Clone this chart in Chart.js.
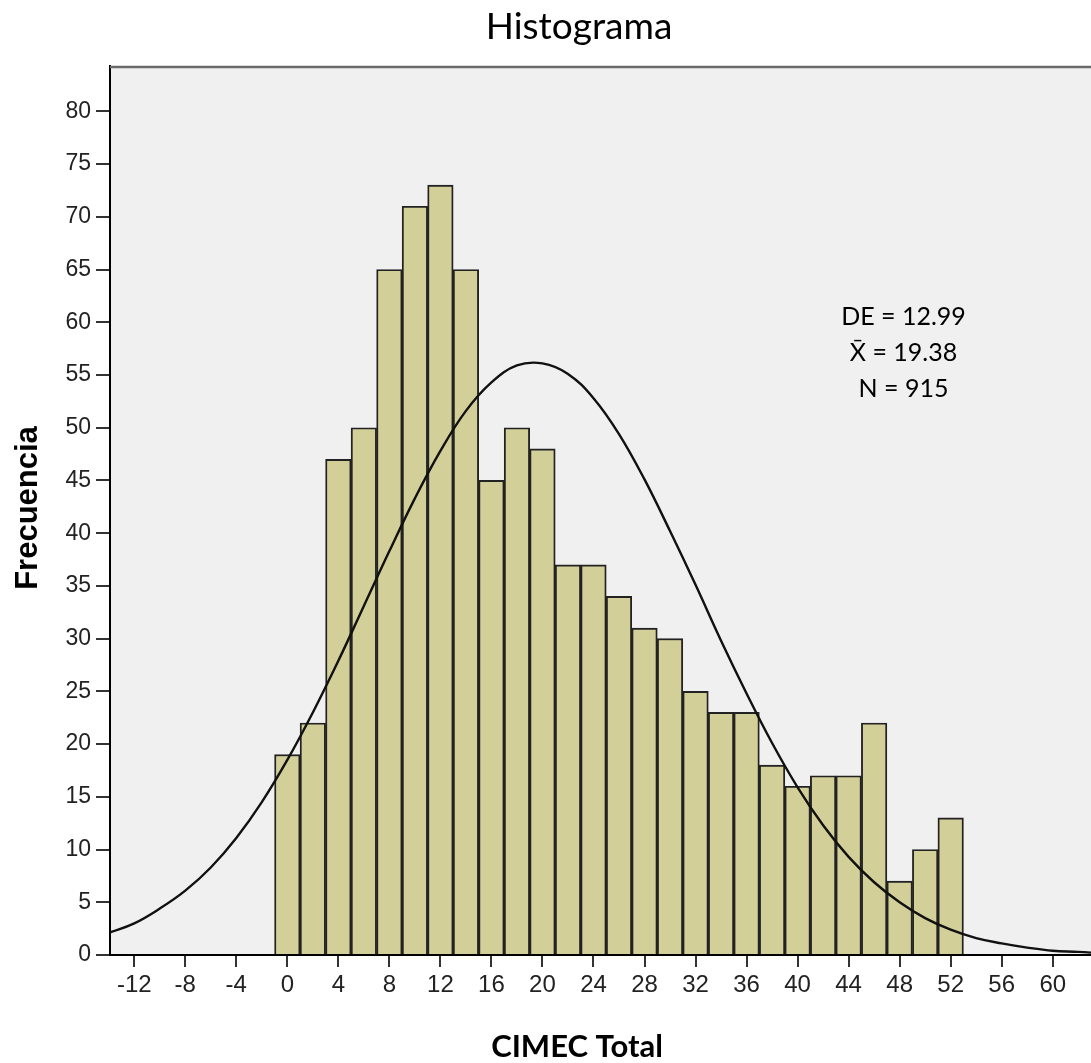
<!DOCTYPE html>
<html lang="es">
<head>
<meta charset="utf-8">
<title>Histograma</title>
<script src="https://cdn.jsdelivr.net/npm/chart.js@4/dist/chart.umd.min.js"></script>
<style>
  html, body { margin: 0; background: #fff; }
  #wrap { width: 1091px; height: 1063px; position: relative; }
</style>
</head>
<body>
<div id="wrap"><canvas id="histo"></canvas></div>
<script>
// centros de cada intervalo (ancho 2) y sus frecuencias
const centros = [0, 2, 4, 6, 8, 10, 12, 14, 16, 18, 20, 22, 24, 26, 28, 30, 32, 34, 36, 38, 40, 42, 44, 46, 48, 50, 52];
const frecuencias = [19, 22, 47, 50, 65, 71, 73, 65, 45, 50, 48, 37, 37, 34, 31, 30, 25, 23, 23, 18, 16, 17, 17, 22, 7, 10, 13];

// curva normal
const curvaX = [-14, -12, -10, -8, -6, -4, -2, 0, 2, 4, 6, 8, 10, 12, 14, 16, 18, 20, 22, 24, 26, 28, 30,
                32, 34, 36, 38, 40, 42, 44, 46, 48, 50, 52, 54, 56, 58, 60, 62, 64];
const curvaY = [2.1, 3.0, 4.4, 6.1, 8.3, 11.1, 14.5, 18.5, 23.0, 27.9, 33.1, 38.3, 43.3, 47.8, 51.6, 54.3, 55.9, 56.1, 55.1,
                52.8, 49.4, 45.1, 40.2, 35.1, 29.8, 24.8, 20.1, 15.9, 12.3, 9.3, 6.9, 5.0, 3.5, 2.4, 1.6, 1.1, 0.7, 0.4, 0.3, 0.15];

const ticksX = [-12, -8, -4, 0, 4, 8, 12, 16, 20, 24, 28, 32, 36, 40, 44, 48, 52, 56, 60];
const ticksY = [0, 5, 10, 15, 20, 25, 30, 35, 40, 45, 50, 55, 60, 65, 70, 75, 80];

const estadisticos = ['DE = 12.99', 'X\u0304 = 19.38', 'N = 915'];

const textos = {
    id: 'textos',
    beforeDraw(chart) {
        const { ctx, chartArea: a } = chart;
        ctx.save();
        ctx.fillStyle = '#f0f0f0';
        ctx.fillRect(a.left, a.top, a.right - a.left, a.bottom - a.top);
        ctx.restore();
    },
    afterDraw(chart) {
        const { ctx, chartArea: a, scales } = chart;
        ctx.save();
        // borde superior
        ctx.strokeStyle = '#6a6a6a';
        ctx.lineWidth = 2.5;
        ctx.beginPath();
        ctx.moveTo(a.left, a.top + 1);
        ctx.lineTo(a.right, a.top + 1);
        ctx.stroke();

        ctx.fillStyle = '#000';
        ctx.textAlign = 'center';
        ctx.textBaseline = 'alphabetic';
        ctx.font = '37px Lato';
        ctx.fillText('Histograma', 579, 39);

        ctx.font = 'bold 31px Lato';
        ctx.fillText('CIMEC Total', 577, 1057);

        ctx.save();
        ctx.translate(37, 508);
        ctx.rotate(-Math.PI / 2);
        ctx.font = 'bold 31px "Liberation Sans"';
        ctx.fillText('Frecuencia', 0, 0);
        ctx.restore();

        // cuadro de estadisticos
        ctx.font = '25px Lato';
        const x = scales.x.getPixelForValue(48.3);
        const y0 = scales.y.getPixelForValue(59.7);
        estadisticos.forEach((t, i) => ctx.fillText(t, x, y0 + i * 36));
        ctx.restore();
    }
};

new Chart(document.getElementById('histo'), {
    data: {
        datasets: [{
            type: 'line',
            data: curvaX.map((x, i) => ({ x, y: curvaY[i] })),
            borderColor: '#111',
            borderWidth: 2.4,
            pointRadius: 0,
            tension: 0.4,
            order: 0
        }, {
            type: 'bar',
            data: centros.map((x, i) => ({ x, y: frecuencias[i] })),
            backgroundColor: '#d3cf98',
            borderColor: '#222',
            borderWidth: 1.9,
            barPercentage: 1,
            categoryPercentage: 1,
            order: 1
        }]
    },
    options: {
        responsive: true,
        maintainAspectRatio: false,
        animation: false,
        layout: { padding: { top: 66, right: 0, bottom: 0, left: 0 } },
        plugins: { legend: { display: false }, tooltip: { enabled: false } },
        scales: {
            x: {
                type: 'linear',
                offset: false,
                min: -13.9,
                max: 63,
                afterBuildTicks: s => { s.ticks = ticksX.map(v => ({ value: v })); },
                afterFit: s => { s.height = 108; },
                border: { display: true, color: '#000', width: 2 },
                grid: { offset: false, drawOnChartArea: false, drawTicks: true, tickLength: 12, color: '#333', lineWidth: 2 },
                ticks: { color: '#222', padding: 4, maxRotation: 0, autoSkip: false, font: { family: '"Liberation Sans"', size: 24 } }
            },
            y: {
                min: 0,
                max: 84.3,
                afterBuildTicks: s => { s.ticks = ticksY.map(v => ({ value: v })); },
                afterFit: s => { s.width = 110; },
                border: { display: true, color: '#000', width: 2 },
                grid: { drawOnChartArea: false, drawTicks: true, tickLength: 14, color: '#333', lineWidth: 2 },
                ticks: { color: '#222', padding: 5, font: { family: '"Liberation Sans"', size: 23 } }
            }
        }
    },
    plugins: [textos]
});
</script>
</body>
</html>
